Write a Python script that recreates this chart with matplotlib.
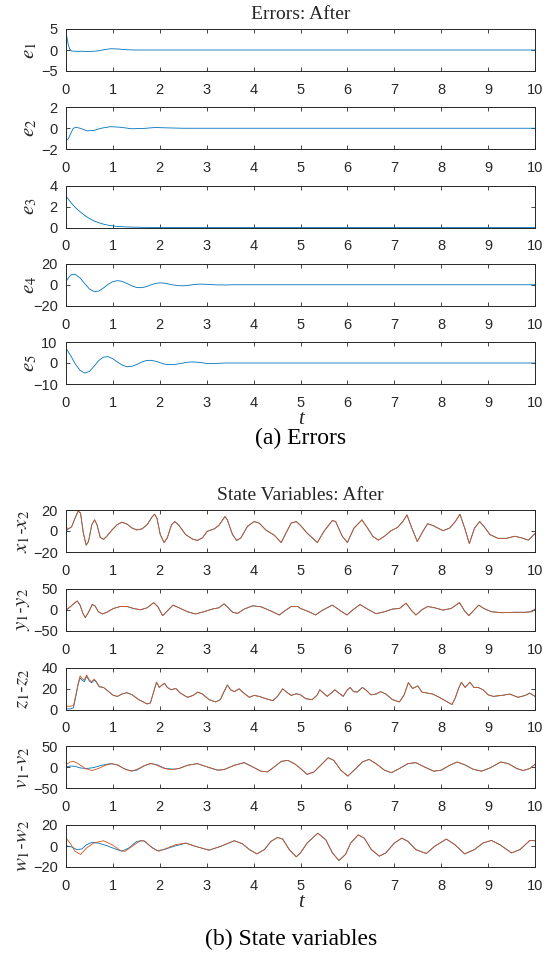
import matplotlib
matplotlib.use('Agg')
import matplotlib.pyplot as plt

plt.rcParams['font.family'] = ['Liberation Sans', 'DejaVu Sans']
plt.rcParams['mathtext.fontset'] = 'stix'

BLUE = '#0072BD'
ORANGE = '#D95319'
DARK = '#262626'

# ---- errors ----
t_e1 = [0, 0.02, 0.05, 0.08, 0.12, 0.2, 0.35, 0.5, 0.65, 0.8, 0.95, 1.1, 1.3, 1.5, 2.0, 10]
e1 = [4.3, 3.0, 1.2, 0.2, -0.25, -0.3, -0.3, -0.35, -0.25, 0.05, 0.3, 0.25, 0.05, 0.0, 0.0, 0.0]

t_e2 = [0, 0.05, 0.1, 0.15, 0.2, 0.3, 0.45, 0.6, 0.75, 0.95, 1.15, 1.4, 1.65, 1.9, 2.2, 2.5, 10]
e2 = [-1.2, -1.0, -0.5, -0.05, 0.1, 0.0, -0.25, -0.2, 0.0, 0.15, 0.1, -0.05, -0.02, 0.07, 0.03, 0.0, 0.0]

t_e3 = [0, 0.1, 0.2, 0.3, 0.4, 0.5, 0.6, 0.7, 0.8, 0.9, 1.0, 1.1, 1.3, 1.6, 2.0, 10]
e3 = [3.0, 2.4, 1.9, 1.5, 1.15, 0.85, 0.62, 0.45, 0.32, 0.22, 0.15, 0.1, 0.05, 0.02, 0.0, 0.0]

t_e4 = [0, 0.05, 0.1, 0.15, 0.2, 0.3, 0.4, 0.5, 0.6, 0.7, 0.8, 0.9, 1.0, 1.1, 1.2,
        1.3, 1.4, 1.5, 1.6, 1.7, 1.8, 1.9, 2.0, 2.1, 2.2, 2.3, 2.4, 2.5, 2.6, 2.7,
        2.8, 2.9, 3.0, 3.2, 3.4, 3.6, 10]
e4 = [3, 6.5, 9.2, 10, 9.7, 6.5, 1, -4, -6.5, -6, -3, 0.5, 3, 3.9, 3.2,
      1.2, -1, -2.5, -2.8, -2, -0.3, 1.2, 1.8, 1.5, 0.6, -0.3, -0.9, -1, -0.6, 0,
      0.5, 0.6, 0.4, -0.1, -0.2, 0, 0]

t_e5 = [0, 0.1, 0.2, 0.3, 0.4, 0.5, 0.6, 0.7, 0.8, 0.9, 1.0, 1.1, 1.2, 1.3, 1.4,
        1.5, 1.6, 1.7, 1.8, 1.9, 2.0, 2.1, 2.2, 2.3, 2.4, 2.5, 2.6, 2.7, 2.8, 2.9,
        3.0, 3.1, 3.2, 3.4, 3.6, 10]
e5 = [7, 3.5, -0.5, -3.5, -4.8, -4, -1.5, 1.2, 2.8, 3, 2, 0.4, -1, -1.8, -1.6,
      -0.8, 0.3, 1.1, 1.3, 0.9, 0.2, -0.5, -0.8, -0.7, -0.4, 0, 0.4, 0.5, 0.4, 0.1,
      -0.2, -0.3, -0.2, 0, 0, 0]

# ---- state variables: orange (drawn on top) ----
t_x = [0, 0.05, 0.12, 0.19, 0.26, 0.31, 0.37, 0.43, 0.48, 0.55, 0.61, 0.66, 0.73, 0.8, 0.87,
       0.98, 1.09, 1.19, 1.3, 1.41, 1.51, 1.62, 1.73, 1.84, 1.89, 1.94, 2.01, 2.09, 2.16, 2.25,
       2.32, 2.41, 2.55, 2.69, 2.8, 2.91, 3.01, 3.16, 3.26, 3.34, 3.39, 3.44, 3.55, 3.64, 3.73,
       3.87, 4.01, 4.12, 4.26, 4.44, 4.59, 4.69, 4.8, 4.91, 5.0, 5.14, 5.36, 5.5, 5.68, 5.75,
       5.89, 6.0, 6.14, 6.31, 6.43, 6.54, 6.66, 6.79, 6.93, 7.07, 7.18, 7.27, 7.36, 7.49, 7.61,
       7.71, 7.82, 8.04, 8.18, 8.3, 8.4, 8.5, 8.6, 8.71, 8.82, 8.91, 9.04, 9.21, 9.39, 9.57,
       9.71, 9.86, 10.0]
x_diff = [4, 2, 4, 12, 19, 17, -2, -13.5, -10, 6, 10.6, 6, -6, -8, -5,
          1, 6, 8.4, 6.6, 2.8, 1, 2, 6, 13.7, 16, 12, -3.4, -11, -6.5, 6,
          9, 5.3, -3.4, -7.5, -9, -6.5, -0.3, 2, 5.3, 10.6, 13.7, 10.6, -3.4, -9, -6.5,
          4.4, 9, 7.5, 1, -4, -11, -2, 7.5, 9, 5.3, -2, -11, -0.3, 10, 9,
          -5, -11, 2.8, 10.6, 2.8, -5, -8.7, -5, 0.3, 3.4, 9, 15.3, 4.4, -10, -0.3,
          6.9, 5.3, 0.3, 2.8, 9, 16, 2.8, -12, 2.8, 9, 4.4, -3.4, -7, -7, -5,
          -6.5, -8.7, -2.5]

t_y = [0, 0.09, 0.17, 0.24, 0.3, 0.36, 0.41, 0.48, 0.56, 0.62, 0.69, 0.78, 0.87, 1.01, 1.16,
       1.3, 1.44, 1.59, 1.73, 1.87, 1.96, 2.06, 2.16, 2.28, 2.41, 2.59, 2.76, 2.94, 3.12, 3.26,
       3.37, 3.44, 3.55, 3.66, 3.8, 3.98, 4.16, 4.37, 4.55, 4.66, 4.8, 4.94, 5.0, 5.18, 5.32,
       5.46, 5.68, 5.86, 5.99, 6.11, 6.27, 6.43, 6.61, 6.79, 6.96, 7.11, 7.25, 7.36, 7.46, 7.59,
       7.71, 7.86, 8.04, 8.21, 8.39, 8.5, 8.59, 8.7, 8.8, 8.91, 9.07, 9.29, 9.57, 9.79, 9.93,
       10.0]
y_diff = [0, 7, 15, 21, 11, -8.6, -18.7, -6, 12.5, 9, -4.7, -10, -6, 3, 7.8,
          7.8, 3, 0, 4.7, 17, 7, -14, -3, 11, 4.7, -4.7, -10, -4.7, 1.6, 4.7,
          14, 7, -6, -8.6, 1.6, 9.4, 7, -3, -12.5, -3, 7.8, 7.8, 3, -4.7, -12.5,
          -1.6, 11, -3, -12.5, -0.8, 12.5, 1.6, -9.4, -4.7, 1.6, 3, 15.6, -0.8, -12.5, 0,
          7.8, 4.7, -0.8, 3, 17, -3, -14, -0.8, 11, 3, -4.7, -7, -6, -6, -4.7,
          1.6]

t_z = [0, 0.09, 0.16, 0.21, 0.26, 0.3, 0.34, 0.39, 0.44, 0.5, 0.55, 0.6, 0.64, 0.71, 0.8,
       0.91, 1.01, 1.1, 1.19, 1.3, 1.41, 1.55, 1.73, 1.8, 1.87, 1.93, 1.99, 2.05, 2.1, 2.16,
       2.24, 2.34, 2.44, 2.59, 2.71, 2.81, 2.91, 3.05, 3.19, 3.29, 3.37, 3.44, 3.51, 3.59, 3.69,
       3.79, 3.91, 4.01, 4.12, 4.26, 4.41, 4.51, 4.62, 4.69, 4.8, 4.91, 5.0, 5.11, 5.25, 5.36,
       5.41, 5.49, 5.57, 5.68, 5.73, 5.82, 5.91, 6.0, 6.06, 6.13, 6.21, 6.32, 6.39, 6.5, 6.61,
       6.71, 6.82, 6.96, 7.11, 7.21, 7.3, 7.39, 7.5, 7.59, 7.71, 7.82, 7.96, 8.11, 8.23, 8.3,
       8.37, 8.43, 8.51, 8.61, 8.7, 8.79, 8.89, 9.0, 9.11, 9.29, 9.46, 9.64, 9.79, 9.89, 10.0]
z_diff = [3.1, 3.1, 3.75, 14, 25, 32, 29.7, 28, 32.8, 28, 26.5, 29, 27, 22, 21,
          17, 13.4, 12.5, 14.7, 16, 14, 9.4, 5.3, 6.3, 17, 26, 21, 23.4, 25, 21,
          18.8, 20, 15.6, 11.6, 13.4, 16.6, 14.7, 9.4, 7.2, 9.4, 17, 23.4, 18.8, 17, 19.7,
          15.6, 11.6, 13.4, 12.5, 10.3, 8.4, 12.5, 19.7, 17, 13.4, 15, 14, 10.3, 9.4, 14,
          18.8, 15.6, 12.5, 16.6, 18.8, 15.6, 12.5, 18.8, 21, 17, 16.6, 21, 18.8, 14, 14.7,
          17, 14.7, 9.4, 7.2, 14, 25.6, 20, 22.5, 16.6, 15.6, 14.7, 11.6, 7.8, 4.7, 11,
          20, 26, 21, 26, 21, 21, 18.8, 14, 12.5, 13.4, 14.7, 11.6, 13.4, 15.6, 12.5]

t_v = [0, 0.09, 0.16, 0.26, 0.41, 0.55, 0.69, 0.84, 0.98, 1.12, 1.26, 1.41, 1.55, 1.69, 1.81,
       1.94, 2.09, 2.23, 2.41, 2.59, 2.8, 3.01, 3.23, 3.37, 3.59, 3.8, 3.98, 4.16, 4.3, 4.44,
       4.59, 4.73, 4.87, 5.0, 5.14, 5.29, 5.43, 5.59, 5.71, 5.86, 6.01, 6.18, 6.32, 6.46, 6.61,
       6.79, 6.94, 7.11, 7.29, 7.46, 7.64, 7.84, 8.0, 8.18, 8.34, 8.5, 8.68, 8.86, 9.04, 9.27,
       9.43, 9.61, 9.75, 9.89, 10.0]
v_diff = [6, 12.5, 14, 8.6, -3, -7.8, -3, 4.7, 8.6, 4.7, -4.7, -9.4, -3, 4.7, 9.4,
          4.7, -3, -5.5, -3, 4.7, 8.6, 0.8, -7, -5.5, 4.7, 11, 0.8, -9.4, -11, 0.8,
          14, 16.4, 8.6, -3, -17, -11, 4.7, 22.6, 16.4, -7, -21, -3, 12.5, 18.8, 8.6,
          -7, -13, -3, 8.6, 11, 0.8, -9.4, -7, 4.7, 12.5, 6, -4.7, -9.4, -1.6, 12.5,
          8.6, -3, -7.8, -3, 7]

t_w = [0, 0.09, 0.19, 0.31, 0.44, 0.59, 0.8, 0.98, 1.16, 1.26, 1.41, 1.59, 1.69, 1.84, 1.98,
       2.16, 2.34, 2.55, 2.76, 3.05, 3.3, 3.59, 3.76, 3.91, 4.07, 4.23, 4.37, 4.51, 4.62, 4.76,
       4.91, 5.0, 5.14, 5.37, 5.54, 5.68, 5.82, 5.96, 6.07, 6.23, 6.36, 6.51, 6.68, 6.82, 7.0,
       7.16, 7.29, 7.46, 7.68, 7.86, 8.11, 8.29, 8.5, 8.71, 8.89, 9.07, 9.25, 9.5, 9.68, 9.89,
       10.0]
w_diff = [7.5, 2.8, -5, -8, -1.9, 2.8, 5, 1.3, -4.4, -5, -0.3, 5.3, 4.4, -1.9, -5,
          -1.9, 1.3, 2.8, -0.3, -4, -0.3, 5, 2.2, -3.4, -7.5, -3.4, 4.4, 8.1, 6.6, -3.4,
          -10.3, -6.6, 2.8, 12.2, 5.9, -6.6, -13.8, -8, 2.8, 10.6, 7.5, -3.4, -9.7, -6.6, 2.8,
          7.5, 4.4, -3.4, -7.2, -0.3, 6.6, 1.3, -7.5, -3.4, 2.8, 5.3, 1.3, -6.6, -3.4, 5.3,
          5]

# ---- state variables: blue where it separates from orange (early part) ----
t_x_b = [0, 0.05]
x_diff_b = [0, 2]
t_y_b = [0, 0.05]
y_diff_b = [-1, 3]
t_z_b = [0, 0.09, 0.16, 0.21, 0.26, 0.3, 0.34, 0.39, 0.44, 0.5, 0.55, 0.6, 0.64, 0.71]
z_diff_b = [0.6, 0.6, 1.6, 12.5, 24, 30, 28, 26.5, 31.5, 27, 25.5, 28, 26.5, 21.5]
t_v_b = [0, 0.09, 0.19, 0.3, 0.44, 0.59, 0.76, 0.94, 1.09, 1.23, 1.37, 1.51, 1.66, 1.8, 1.94,
         2.12, 2.3]
v_diff_b = [0.8, 3, 2.3, -1.6, -3, -0.8, 4.7, 8.6, 6, -3, -8.6, -7, 3, 8.6, 6,
            -3, -4.7]
t_w_b = [0, 0.12, 0.23, 0.34, 0.44, 0.55, 0.69, 0.87, 1.05, 1.19, 1.34, 1.51, 1.66, 1.8, 1.94,
         2.09, 2.3, 2.51]
w_diff_b = [0.3, -0.9, -3.4, -2.8, 1.3, 3.4, 2.8, 0.3, -2.8, -5, -1.9, 4.4, 5, -0.3, -4.4,
            -3.4, -0.3, 2.2]

xticks = list(range(0, 11))

fig = plt.figure(figsize=(5.5, 9.6), dpi=100)
W, H = 550.0, 960.0
LEFT, RIGHT = 66, 535
AX_H = 42


def make_axes(top_px, ylim, yticks, ylabel, label_x):
    ax = fig.add_axes([LEFT / W, 1 - (top_px + AX_H) / H, (RIGHT - LEFT) / W, AX_H / H])
    ax.set_xlim(0, 10)
    ax.set_ylim(*ylim)
    ax.set_xticks(xticks)
    ax.set_yticks(yticks)
    ax.tick_params(direction='in', length=3, width=0.6, colors=DARK, labelsize=10.5,
                   top=True, right=True)
    ax.tick_params(axis='x', pad=8.5)
    ax.tick_params(axis='y', pad=6)
    for s in ax.spines.values():
        s.set_color(DARK)
        s.set_linewidth(0.7)
    ax.set_ylabel(ylabel, family='STIXGeneral', style='italic', fontsize=15,
                  color=DARK)
    ax.yaxis.set_label_coords(label_x, 0.5)
    return ax


def blue_series(t_head, v_head, t_o, v_o):
    tt = list(t_head)
    vv = list(v_head)
    for t, v in zip(t_o, v_o):
        if t > t_head[-1]:
            tt.append(t)
            vv.append(v)
    return tt, vv


err_tops = [29, 107.25, 185.5, 263.75, 342]
err_data = [
    (t_e1, e1, (-5, 5), [-5, 0, 5], r'$\mathit{e}_\mathit{1}$'),
    (t_e2, e2, (-2, 2), [-2, 0, 2], r'$\mathit{e}_\mathit{2}$'),
    (t_e3, e3, (0, 4), [0, 2, 4], r'$\mathit{e}_\mathit{3}$'),
    (t_e4, e4, (-20, 20), [-20, 0, 20], r'$\mathit{e}_\mathit{4}$'),
    (t_e5, e5, (-10, 10), [-10, 0, 10], r'$\mathit{e}_\mathit{5}$'),
]
for top, (t, v, ylim, yt, lab) in zip(err_tops, err_data):
    ax = make_axes(top, ylim, yt, lab, -0.058)
    ax.plot(t, v, color=BLUE, lw=0.6)
    if top == err_tops[0]:
        ax.set_title('Errors: After', family='Liberation Serif', fontsize=14,
                     color=DARK, pad=7.5)
    if top == err_tops[-1]:
        ax.set_xlabel('t', family='Liberation Serif', style='italic', fontsize=15,
                      color=DARK, labelpad=0)

st_tops = [510, 588.75, 667.5, 746.25, 825]
st_data = [
    (t_x, x_diff, t_x_b, x_diff_b, (-20, 20), [-20, 0, 20],
     r'$\mathit{x}_\mathit{1}$-$\mathit{x}_\mathit{2}$'),
    (t_y, y_diff, t_y_b, y_diff_b, (-50, 50), [-50, 0, 50],
     r'$\mathit{y}_\mathit{1}$-$\mathit{y}_\mathit{2}$'),
    (t_z, z_diff, t_z_b, z_diff_b, (0, 40), [0, 20, 40],
     r'$\mathit{z}_\mathit{1}$-$\mathit{z}_\mathit{2}$'),
    (t_v, v_diff, t_v_b, v_diff_b, (-50, 50), [-50, 0, 50],
     r'$\mathit{v}_\mathit{1}$-$\mathit{v}_\mathit{2}$'),
    (t_w, w_diff, t_w_b, w_diff_b, (-20, 20), [-20, 0, 20],
     r'$\mathit{w}_\mathit{1}$-$\mathit{w}_\mathit{2}$'),
]
for top, (t, v, tb, vb, ylim, yt, lab) in zip(st_tops, st_data):
    ax = make_axes(top, ylim, yt, lab, -0.072)
    tt, vv = blue_series(tb, vb, t, v)
    ax.plot(tt, vv, color=BLUE, lw=0.6)
    ax.plot(t, v, color=ORANGE, lw=0.6)
    if top == st_tops[0]:
        ax.set_title('State Variables: After', family='Liberation Serif', fontsize=14,
                     color=DARK, pad=7)
    if top == st_tops[-1]:
        ax.set_xlabel('t', family='Liberation Serif', style='italic', fontsize=15,
                      color=DARK, labelpad=0)

fig.text(300.5 / W, 1 - 438 / H, '(a) Errors', family='Liberation Serif', fontsize=17,
         ha='center', va='center', color='black')
fig.text(291 / W, 1 - 939 / H, '(b) State variables', family='Liberation Serif',
         fontsize=17, ha='center', va='center', color='black')

fig.savefig('out.png', dpi=100)
